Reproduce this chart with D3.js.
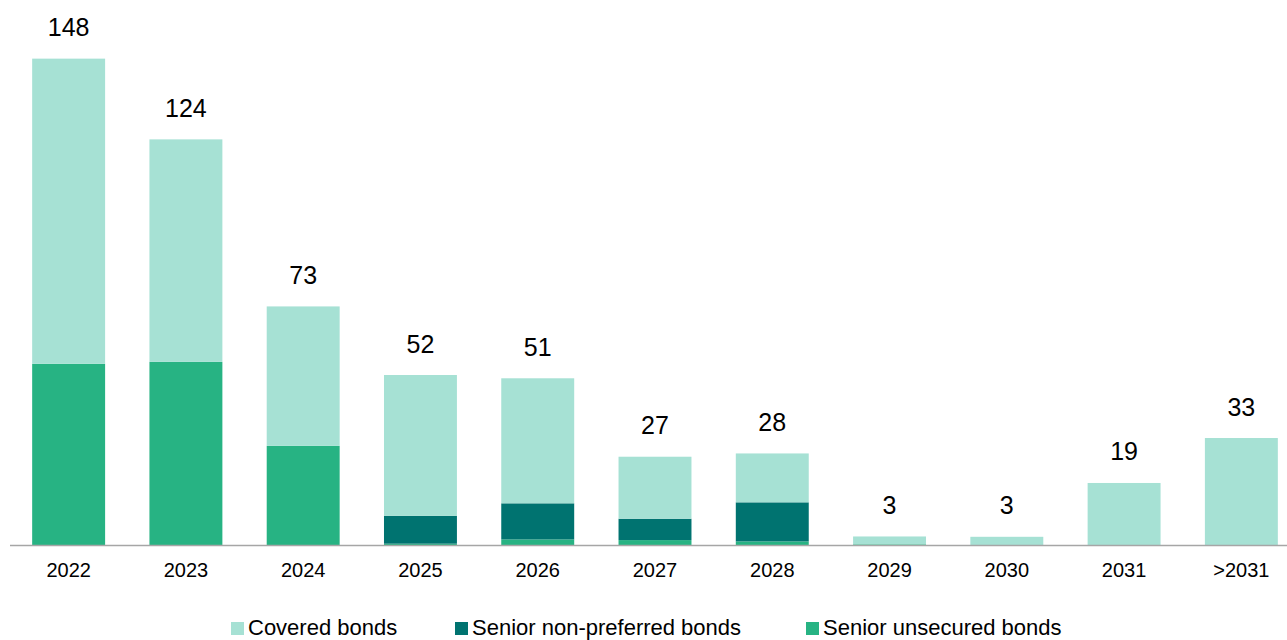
<!DOCTYPE html>
<html>
<head>
<meta charset="utf-8">
<script src="https://cdn.jsdelivr.net/npm/d3@7"></script>
<style>
  html, body { margin: 0; padding: 0; background: #ffffff; }
  svg { display: block; font-family: "Liberation Sans", Arial, sans-serif; }
</style>
</head>
<body>
<svg id="chart" width="1287" height="640"></svg>
<script>
// Maturity buckets
const categories = ["2022", "2023", "2024", "2025", "2026", "2027", "2028", "2029", "2030", "2031", ">2031"];

// Volumes per instrument (stacked bottom to top: unsecured, non-preferred, covered)
const seniorUnsecured    = [55.2, 55.8, 30.2, 0.4, 1.7, 1.5, 1.1, 0.2, 0, 0, 0];
const seniorNonPreferred = [0, 0, 0, 8.5, 11.0, 6.5, 11.9, 0, 0, 0, 0];
const coveredBonds       = [93.0, 67.8, 42.5, 42.9, 38.1, 18.9, 14.9, 2.4, 2.5, 18.9, 32.6];

const seriesNames = ["Senior unsecured bonds", "Senior non-preferred bonds", "Covered bonds"];
const legendOrder = ["Covered bonds", "Senior non-preferred bonds", "Senior unsecured bonds"];
const colors = {
  "Covered bonds": "#a6e1d4",
  "Senior non-preferred bonds": "#007370",
  "Senior unsecured bonds": "#27b383"
};

const rows = categories.map((c, i) => ({
  cat: c,
  "Senior unsecured bonds": seniorUnsecured[i],
  "Senior non-preferred bonds": seniorNonPreferred[i],
  "Covered bonds": coveredBonds[i]
}));

const svg = d3.select("#chart");
const baseY = 545;

const x = d3.scaleBand()
  .domain(categories)
  .range([10, 1300])
  .paddingInner(0.378)
  .paddingOuter(0.189);

// 148 units span from the baseline up to y ≈ 59
const y = d3.scaleLinear().domain([0, 148]).range([baseY, 59.3]);

const stack = d3.stack().keys(seriesNames);
const layers = stack(rows);

svg.append("g")
  .selectAll("g")
  .data(layers)
  .join("g")
  .attr("fill", d => colors[d.key])
  .selectAll("rect")
  .data(d => d)
  .join("rect")
  .attr("x", d => x(d.data.cat))
  .attr("width", x.bandwidth())
  .attr("y", d => y(d[1]))
  .attr("height", d => Math.max(0, y(d[0]) - y(d[1])));

// Total labels above each column
const totals = rows.map(r => seriesNames.reduce((s, k) => s + r[k], 0));
svg.append("g")
  .selectAll("text")
  .data(categories)
  .join("text")
  .attr("x", c => x(c) + x.bandwidth() / 2)
  .attr("y", (c, i) => y(totals[i]) - 22.5)
  .attr("text-anchor", "middle")
  .attr("font-size", 25)
  .attr("fill", "#000")
  .text((c, i) => d3.format("d")(Math.round(totals[i])));

// Category axis
const axis = svg.append("g")
  .attr("transform", `translate(0,${baseY})`)
  .call(d3.axisBottom(x).tickSize(0).tickPadding(0));
axis.select(".domain").remove();
axis.selectAll("text")
  .attr("font-size", 20)
  .attr("font-family", "Liberation Sans, Arial, sans-serif")
  .attr("fill", "#000")
  .attr("dy", null)
  .attr("y", 31.5);

svg.append("line")
  .attr("x1", 10).attr("x2", 1287)
  .attr("y1", baseY + 0.5).attr("y2", baseY + 0.5)
  .attr("stroke", "#a6a6a6")
  .attr("stroke-width", 1.5);

// Legend
const legendX = [231, 455, 806];
const legend = svg.append("g")
  .selectAll("g")
  .data(legendOrder)
  .join("g")
  .attr("transform", (d, i) => `translate(${legendX[i]},0)`);
legend.append("rect")
  .attr("x", 0).attr("y", 622)
  .attr("width", 13).attr("height", 13)
  .attr("fill", d => colors[d]);
legend.append("text")
  .attr("x", 17).attr("y", 635)
  .attr("font-size", 22)
  .attr("fill", "#000")
  .text(d => d);
</script>
</body>
</html>
